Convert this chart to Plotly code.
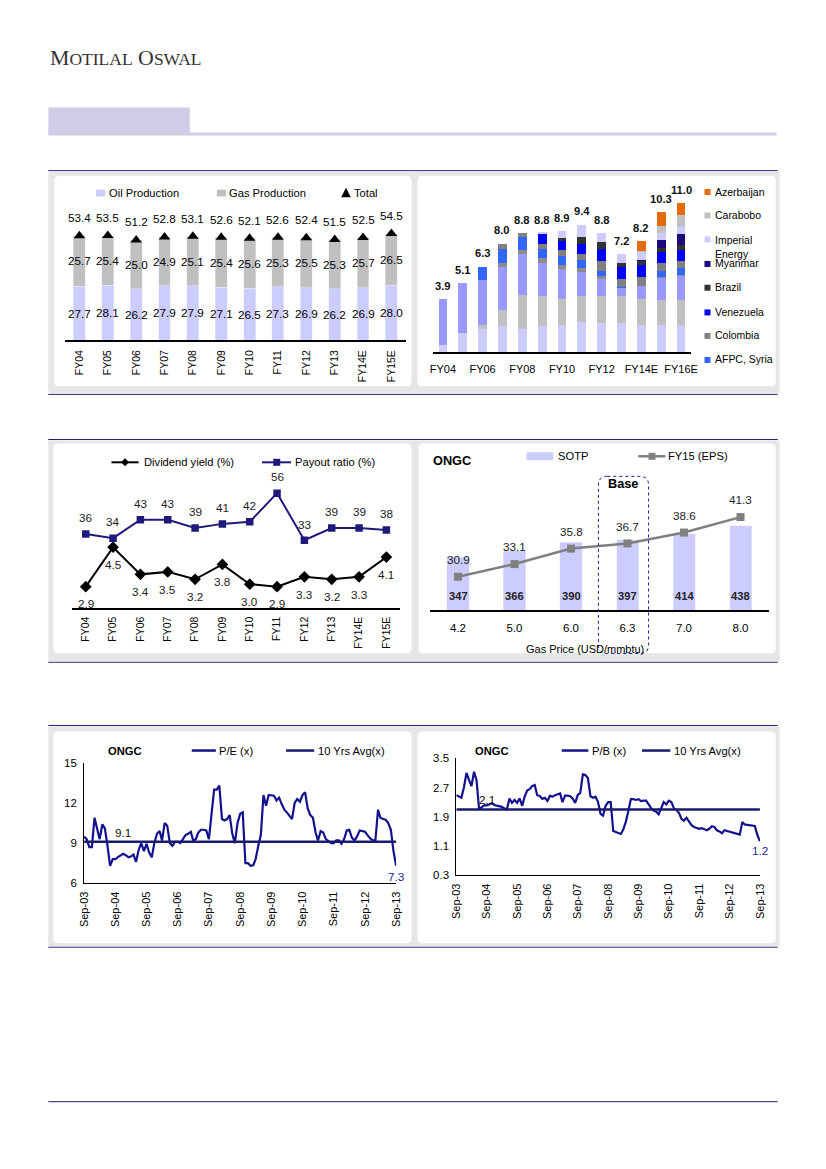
import plotly.graph_objects as go
import pandas as pd

W, H = 826, 1169
# compensation for the page capture (measured): observed = (design + 8) * s
SX, SY, OFF = 0.981, 0.9865, 8.0
def X(p): return (p / SX - OFF) / W
def Y(p): return 1 - (p / SY - OFF) / H
FS = 1.017  # font compensation

FONT = "Liberation Sans"
NAVY = "#1f1f78"

# ---------------- Chart 1 : Oil / Gas production ----------------
c1_years = ["FY04","FY05","FY06","FY07","FY08","FY09","FY10","FY11","FY12","FY13","FY14E","FY15E"]
c1_oil = [27.7,28.1,26.2,27.9,27.9,27.1,26.5,27.3,26.9,26.2,26.9,28.0]
c1_gas = [25.7,25.4,25.0,24.9,25.1,25.4,25.6,25.3,25.5,25.3,25.7,26.5]
c1_total = [53.4,53.5,51.2,52.8,53.1,52.6,52.1,52.6,52.4,51.5,52.5,54.5]

# ---------------- Chart 2 : OVL production by asset ----------------
c2_years = ["FY04","FY05","FY06","FY07","FY08","FY09","FY10","FY11","FY12","FY13","FY14E","FY15E","FY16E"]
c2_ticks = ["FY04","FY06","FY08","FY10","FY12","FY14E","FY16E"]
c2_vietnam = [0.5,1.4,1.7,1.9,1.7,1.9,2.0,2.2,2.1,2.1,2.0,2.0,2.0]
c2_sakhalin = [0,0,0.3,1.2,2.5,2.2,1.9,1.9,2.0,2.0,1.9,1.85,1.85]
c2_sudan = [3.4,3.7,3.3,3.2,3.0,2.5,2.2,1.8,1.3,0.6,1.0,1.6,1.75]
c2_others = [0,0,0,0.3,0.3,0.3,0.3,0.3,0.2,0,0,0.1,0.1]
c2_afpc = [0,0,1.0,1.0,1.0,0.7,0.7,0.6,0.4,0.1,0,0.4,0.5]
c2_colombia = [0,0,0,0.4,0.3,0.4,0.4,0.4,0.7,0.55,0.6,0.6,0.5]
c2_venezuela = [0,0,0,0,0,0.7,0.7,0.8,0.9,0.95,0.9,0.8,0.85]
c2_brazil = [0,0,0,0,0,0,0.2,0.5,0.5,0.3,0.3,0.3,0.35]
c2_myanmar = [0,0,0,0,0,0,0,0,0,0,0.1,0.65,0.8]
c2_imperial = [0,0,0,0,0,0.1,0.5,0.9,0.7,0.6,0.55,0.5,0.5]
c2_carabobo = [0,0,0,0,0,0,0,0,0,0,0.1,0.5,0.9]
c2_azerbaijan = [0,0,0,0,0,0,0,0,0,0,0.75,1.0,0.9]
c2_total = [3.9,5.1,6.3,8.0,8.8,8.8,8.9,9.4,8.8,7.2,8.2,10.3,11.0]
c2_legend = ["Azerbaijan","Carabobo","Imperial<br>Energy","Myanmar","Brazil","Venezuela","Colombia","AFPC, Syria"]

# ---------------- Chart 3 : Dividend ----------------
c3_years = ["FY04","FY05","FY06","FY07","FY08","FY09","FY10","FY11","FY12","FY13","FY14E","FY15E"]
c3_yield = [2.9,4.5,3.4,3.5,3.2,3.8,3.0,2.9,3.3,3.2,3.3,4.1]
c3_payout = [36,34,43,43,39,41,42,56,33,39,39,38]

# ---------------- Chart 4 : Gas price sensitivity ----------------
c4_price = ["4.2","5.0","6.0","6.3","7.0","8.0"]
c4_sotp = [347,366,390,397,414,438]
c4_eps = [30.9,33.1,35.8,36.7,38.6,41.3]

# ---------------- Chart 5 : P/E ----------------
c5_pe = [9.5,9.3,8.7,8.7,10.9,10.0,9.3,10.4,10.1,8.8,
         7.3,7.8,7.8,7.95,8.1,8.2,8.1,7.95,8.0,8.15,
         7.6,8.5,9.0,8.4,8.95,8.3,7.95,9.0,9.7,9.9,
         9.2,10.5,10.3,9.0,8.8,9.1,9.1,9.0,9.3,9.6,
         9.7,9.85,9.2,9.3,9.8,10.0,10.0,9.95,9.3,11.3,
         13.0,13.0,13.3,10.8,10.7,10.8,11.1,9.7,9.0,10.5,
         11.2,11.3,7.5,7.5,7.3,7.35,7.8,8.8,9.6,12.6,
         11.8,12.6,12.6,12.55,12.2,12.4,11.9,11.5,11.3,11.0,
         10.8,12.0,12.3,12.1,12.6,12.8,11.6,11.1,10.9,9.8,
         9.2,9.9,9.8,9.3,9.15,9.0,9.0,9.2,9.2,8.95,
         9.3,9.95,10.0,9.4,9.2,9.5,9.95,9.9,9.85,9.6,
         9.35,9.2,9.2,11.5,10.9,10.8,10.75,10.5,10.0,8.4,
         7.3]
c5_avg = 9.1
c5_ticks = ["Sep-03","Sep-04","Sep-05","Sep-06","Sep-07","Sep-08","Sep-09","Sep-10","Sep-11","Sep-12","Sep-13"]

# ---------------- Chart 6 : P/B ----------------
c6_pb = [2.49,2.45,2.42,2.7,3.1,2.9,2.74,3.13,2.9,2.1,
         2.15,2.22,2.21,2.24,2.27,2.22,2.21,2.19,2.17,2.13,
         2.1,2.4,2.28,2.36,2.28,2.4,2.2,2.45,2.62,2.66,
         2.74,2.77,2.49,2.47,2.39,2.42,2.33,2.47,2.45,2.49,
         2.51,2.54,2.3,2.48,2.48,2.46,2.40,2.28,2.5,2.55,
         3.06,3.04,2.96,2.46,2.42,2.45,2.31,1.98,1.93,2.2,
         2.30,2.30,1.51,1.48,1.44,1.43,1.55,1.76,2.05,2.38,
         2.38,2.36,2.38,2.33,2.34,2.34,2.24,2.13,2.07,2.04,
         1.97,2.15,2.3,2.24,2.34,2.3,2.13,2.09,2.0,1.84,
         1.79,1.87,1.77,1.67,1.62,1.59,1.57,1.59,1.56,1.53,
         1.57,1.64,1.62,1.53,1.50,1.45,1.53,1.51,1.49,1.46,
         1.43,1.41,1.41,1.76,1.69,1.68,1.67,1.68,1.65,1.40,
         1.23]
c6_avg = 2.1
c6_ticks = c5_ticks

fig = go.Figure()
annotations = []
shapes = []

def ann(text, x, y, size=10.5, bold=False, color="black", xanchor="center", yanchor="middle",
        xref="paper", yref="paper", yshift=0, family=FONT, align="center"):
    if bold:
        text = "<b>" + text + "</b>"
    if xref == "paper":
        x = X(x)
    if yref == "paper":
        y = Y(y)
    annotations.append(dict(text=text, x=x, y=y, xref=xref, yref=yref, showarrow=False,
                            xanchor=xanchor, yanchor=yanchor, yshift=yshift / SY, align=align,
                            font=dict(size=size * FS, color=color, family=family)))

def rect(x0, y0, x1, y1, fill, line=None, layer="below"):
    shapes.append(dict(type="rect", xref="paper", yref="paper", x0=X(x0), x1=X(x1), y0=Y(y1), y1=Y(y0),
                       fillcolor=fill, line=dict(width=0) if line is None else line, layer=layer))

def hline(x0, x1, y, color, width=1, dash="solid", layer="below"):
    shapes.append(dict(type="line", xref="paper", yref="paper", x0=X(x0), x1=X(x1), y0=Y(y), y1=Y(y),
                       line=dict(color=color, width=width, dash=dash), layer=layer))

def rounded(x0, y0, x1, y1, r, fill=None, line=None, layer="below"):
    rx, ry = r / W, r / H
    a0, a1, b0, b1 = X(x0), X(x1), Y(y1), Y(y0)
    p = (f"M {a0+rx},{b1} L {a1-rx},{b1} Q {a1},{b1} {a1},{b1-ry} L {a1},{b0+ry} "
         f"Q {a1},{b0} {a1-rx},{b0} L {a0+rx},{b0} Q {a0},{b0} {a0},{b0+ry} L {a0},{b1-ry} "
         f"Q {a0},{b1} {a0+rx},{b1} Z")
    d = dict(type="path", xref="paper", yref="paper", path=p, layer=layer)
    d["fillcolor"] = fill if fill else "rgba(0,0,0,0)"
    d["line"] = line if line else dict(width=0)
    shapes.append(d)

def path(pts, fill, layer="above"):
    p = "M " + " L ".join(f"{X(a)},{Y(b)}" for a, b in pts) + " Z"
    shapes.append(dict(type="path", xref="paper", yref="paper", path=p, fillcolor=fill,
                       line=dict(width=0), layer=layer))

# ---------------- page decoration ----------------
ann("M<span style='font-size:17.5px'>OTILAL</span> O<span style='font-size:17.5px'>SWAL</span>", 50, 59.5,
    size=21.5, color="#333333", xanchor="left", family="Liberation Serif")
rect(50, 109, 191, 136, "#CFCCE6")
rect(50, 134, 776, 137, "#CFCCE6")
for yy in [172, 395, 440, 662, 725, 946]:
    hline(50, 777, yy, NAVY, 1)
hline(50, 777, 1100, NAVY, 1)

GRAY = "#E6E6E6"
rect(50, 173, 779, 394, GRAY)
rect(50, 441, 779, 661, GRAY)
rect(50, 726, 779, 945, GRAY)
for (a, b, c, d) in [(56, 177, 412, 387), (418, 177, 775, 387),
                     (55, 444, 412, 653), (419, 444, 775, 653),
                     (55, 731, 412, 942), (418, 731, 775, 942)]:
    rounded(a, b, c, d, 5, fill="white")

# ---------------- Chart 1 ----------------
fig.add_trace(go.Bar(x=c1_years, y=c1_oil, marker_color="#CCCCFF", width=0.42, name="Oil Production",
                     xaxis="x", yaxis="y", showlegend=False))
fig.add_trace(go.Bar(x=c1_years, y=c1_gas, marker_color="#C0C0C0", width=0.42, name="Gas Production",
                     xaxis="x", yaxis="y", showlegend=False))
fig.add_trace(go.Scatter(x=c1_years, y=c1_total, mode="markers", name="Total",
                         marker=dict(symbol="triangle-up", size=10, color="black"),
                         xaxis="x", yaxis="y", showlegend=False))
for i, yr in enumerate(c1_years):
    ann(f"{c1_oil[i]:.1f}", i, c1_oil[i] / 2, xref="x", yref="y", size=11.5)
    ann(f"{c1_gas[i]:.1f}", i, c1_oil[i] + c1_gas[i] / 2, xref="x", yref="y", size=11.5)
    ann(f"{c1_total[i]:.1f}", i, c1_total[i], xref="x", yref="y", size=11.5, yshift=18)
rect(97.7, 191, 106.7, 197.7, "#CCCCFF", layer="above")
ann("Oil Production", 108.3, 194.3, size=11, xanchor="left")
rect(218, 191, 227, 197.7, "#C0C0C0", layer="above")
ann("Gas Production", 228.3, 194.3, size=11, xanchor="left")
path([(346.7, 189), (351.5, 198.5), (341.9, 198.5)], "black")
ann("Total", 352.5, 194.3, size=11, xanchor="left")

# ---------------- Chart 2 ----------------
c2_series = [
    ("Vietnam", c2_vietnam, "#CCCCFF"),
    ("Sakhalin", c2_sakhalin, "#C0C0C0"),
    ("Sudan", c2_sudan, "#9999FF"),
    ("Others", c2_others, "#8C8C8C"),
    ("AFPC, Syria", c2_afpc, "#3366FF"),
    ("Colombia", c2_colombia, "#808080"),
    ("Venezuela", c2_venezuela, "#0000FF"),
    ("Brazil", c2_brazil, "#333333"),
    ("Myanmar", c2_myanmar, "#1A0A7A"),
    ("Imperial Energy", c2_imperial, "#CCCCFF"),
    ("Carabobo", c2_carabobo, "#C0C0C0"),
    ("Azerbaijan", c2_azerbaijan, "#E46C0A"),
]
for name, vals, col in c2_series:
    fig.add_trace(go.Bar(x=c2_years, y=vals, marker=dict(color=col, line=dict(width=0)), width=0.44,
                         name=name, xaxis="x2", yaxis="y2", showlegend=False))
for i, yr in enumerate(c2_years):
    ann(f"{c2_total[i]:.1f}", i, c2_total[i], xref="x2", yref="y2", size=11, bold=True,
        color="#111111", yshift=13)
leg_cols = {"Azerbaijan": "#E46C0A", "Carabobo": "#C0C0C0", "Imperial<br>Energy": "#CCCCFF",
            "Myanmar": "#1A0A7A", "Brazil": "#333333", "Venezuela": "#0000FF",
            "Colombia": "#808080", "AFPC, Syria": "#3366FF"}
leg_y = [193.3, 216.7, 240.5, 265, 288.7, 313.3, 336.7, 360.7]
for lab, yy in zip(c2_legend, leg_y):
    rect(704, yy - 3, 710, yy + 3, leg_cols[lab], layer="above")
    if "<br>" in lab:
        ann(lab, 712.5, yy - 6.5, size=10.3, xanchor="left", yanchor="top", align="left")
    else:
        ann(lab, 712.5, yy, size=10.3, xanchor="left")

# ---------------- Chart 3 ----------------
fig.add_trace(go.Scatter(x=c3_years, y=c3_yield, mode="lines+markers", name="Dividend yield (%)",
                         line=dict(color="black", width=2),
                         marker=dict(symbol="diamond", size=9, color="black"),
                         xaxis="x3", yaxis="y3", showlegend=False))
fig.add_trace(go.Scatter(x=c3_years, y=c3_payout, mode="lines+markers", name="Payout ratio (%)",
                         line=dict(color="#1F1A7A", width=2),
                         marker=dict(symbol="square", size=7.5, color="#1F1A7A"),
                         xaxis="x3", yaxis="y4", showlegend=False))
for i, yr in enumerate(c3_years):
    ann(f"{c3_payout[i]:.0f}", i, c3_payout[i], xref="x3", yref="y4", size=11.5, color="#1a1a1a", yshift=16)
    ann(f"{c3_yield[i]:.1f}", i, c3_yield[i], xref="x3", yref="y3", size=11.5, color="#1a1a1a", yshift=-17)
hline(113, 140, 462.7, "black", 2, layer="above")
path([(126.5, 458.7), (130.5, 462.7), (126.5, 466.7), (122.5, 462.7)], "black")
ann("Dividend yield (%)", 143.3, 462.7, size=11, xanchor="left")
hline(263, 292, 462.7, "#1F1A7A", 2, layer="above")
rect(274.2, 459.2, 281.2, 466.2, "#1F1A7A", layer="above")
ann("Payout ratio (%)", 294, 462.7, size=11, xanchor="left")

# ---------------- Chart 4 ----------------
fig.add_trace(go.Bar(x=c4_price, y=[v - 195 for v in c4_sotp], base=195, marker_color="#CCCCFF", width=0.39,
                     name="SOTP", xaxis="x4", yaxis="y5", showlegend=False))
fig.add_trace(go.Scatter(x=c4_price, y=c4_eps, mode="lines+markers", name="FY15 (EPS)",
                         line=dict(color="#808080", width=2.5),
                         marker=dict(symbol="square", size=8, color="#808080"),
                         xaxis="x4", yaxis="y6", showlegend=False))
for i, p in enumerate(c4_price):
    ann(f"{c4_sotp[i]:.0f}", i, 195, xref="x4", yref="y5", size=11, bold=True, color="#222222", yshift=14)
    ann(f"{c4_eps[i]:.1f}", i, c4_eps[i], xref="x4", yref="y6", size=11.5, color="#222222", yshift=17)
ann("ONGC", 431.7, 460.7, size=12.5, bold=True, xanchor="left")
rect(526.7, 452.7, 553.3, 460.7, "#CCCCFF", layer="above")
ann("SOTP", 555.7, 456.7, size=11, xanchor="left")
hline(638, 665, 456.7, "#808080", 2.5, layer="above")
rect(648.2, 453.2, 655.2, 460.2, "#808080", layer="above")
ann("FY15 (EPS)", 666, 456.7, size=11, xanchor="left")
ann("Gas Price (USD/mmbtu)", 585, 648.3, size=10.8)
rounded(598.3, 476.7, 648.3, 653.3, 9, fill=None, line=dict(color="#1A1A9A", width=1, dash="dot"), layer="above")
ann("Base", 623.3, 484.3, size=12.5, bold=True)

# ---------------- Chart 5 ----------------
c5_dates = pd.date_range("2003-09-01", periods=len(c5_pe), freq="MS")
fig.add_trace(go.Scatter(x=c5_dates, y=c5_pe, mode="lines", name="P/E (x)",
                         line=dict(color="#12128C", width=2.2), xaxis="x5", yaxis="y7", showlegend=False))
fig.add_trace(go.Scatter(x=[c5_dates[0], c5_dates[-1]], y=[c5_avg, c5_avg], mode="lines", name="10 Yrs Avg(x)",
                         line=dict(color="#1A1A6E", width=2.5), xaxis="x5", yaxis="y7", showlegend=False))
ann(f"{c5_avg:.1f}", c5_dates[15], c5_avg, xref="x5", yref="y7", size=11.5, color="#111111", yshift=9)
ann(f"{c5_pe[-1]:.1f}", c5_dates[-1], c5_pe[-1], xref="x5", yref="y7", size=11.5, color="#2424A0", yshift=-10)
ann("ONGC", 108, 750.7, size=11, bold=True, xanchor="left")
hline(193, 217, 750, "#12128C", 2.5, layer="above")
ann("P/E (x)", 218, 750, size=11, xanchor="left")
hline(287, 315, 750, "#1A1A6E", 2.5, layer="above")
ann("10 Yrs Avg(x)", 317, 750, size=11, xanchor="left")

# ---------------- Chart 6 ----------------
c6_dates = pd.date_range("2003-09-01", periods=len(c6_pb), freq="MS")
fig.add_trace(go.Scatter(x=c6_dates, y=c6_pb, mode="lines", name="P/B (x)",
                         line=dict(color="#12128C", width=2.2), xaxis="x6", yaxis="y8", showlegend=False))
fig.add_trace(go.Scatter(x=[c6_dates[0], c6_dates[-1]], y=[c6_avg, c6_avg], mode="lines", name="10 Yrs Avg(x)",
                         line=dict(color="#1A1A6E", width=2.5), xaxis="x6", yaxis="y8", showlegend=False))
ann(f"{c6_avg:.1f}", c6_dates[12], c6_avg, xref="x6", yref="y8", size=11.5, color="#111111", yshift=10)
ann(f"{c6_pb[-1]:.1f}", c6_dates[-1], c6_pb[-1], xref="x6", yref="y8", size=11.5, color="#2424A0", yshift=-9)
ann("ONGC", 473, 750, size=11, bold=True, xanchor="left")
hline(561.7, 588.3, 750, "#12128C", 2.5, layer="above")
ann("P/B (x)", 590, 750, size=11, xanchor="left")
hline(641.7, 670, 750, "#1A1A6E", 2.5, layer="above")
ann("10 Yrs Avg(x)", 671.7, 750, size=11, xanchor="left")

# ---------------- axes ----------------
def tf(s):
    return dict(size=s * FS, color="black", family=FONT)

hidden_y = dict(visible=False, showgrid=False, zeroline=False, fixedrange=True)
cat_x = dict(type="category", showline=True, linecolor="black", linewidth=1.5, showgrid=False,
             zeroline=False, ticks="", tickfont=tf(10.8))
date_ticks = [f"{2003 + k}-09-01" for k in range(len(c5_ticks))]

fig.update_layout(
    width=W, height=H, autosize=False,
    margin=dict(l=0, r=0, t=0, b=0),
    paper_bgcolor="white", plot_bgcolor="rgba(0,0,0,0)",
    barmode="stack", showlegend=False,
    font=dict(family=FONT, color="black"),
    xaxis=dict(cat_x, domain=[X(66.9), X(406.1)], anchor="y", tickangle=-90, range=[-0.5, 11.5],
               ticklabelstandoff=4, tickfont=tf(10.3)),
    yaxis=dict(hidden_y, domain=[Y(341), Y(204.5)], range=[0, 70]),
    xaxis2=dict(cat_x, domain=[X(433.4), X(690.6)], anchor="y2", range=[-0.5, 12.5],
                tickmode="array", tickvals=c2_ticks, ticktext=c2_ticks, tickangle=0, ticklabelstandoff=6),
    yaxis2=dict(hidden_y, domain=[Y(352.7), Y(190.7)], range=[0, 12]),
    xaxis3=dict(cat_x, domain=[X(73.7), X(400.6)], anchor="y3", tickangle=-90, range=[-0.5, 11.5],
                ticklabelstandoff=3, tickfont=tf(10.3)),
    yaxis3=dict(hidden_y, domain=[Y(607.7), Y(458)], range=[2.046, 8.13]),
    yaxis4=dict(hidden_y, overlaying="y3", range=[0, 73.4]),
    xaxis4=dict(cat_x, domain=[X(430.2), X(768.1)], anchor="y5", range=[-0.5, 5.5], tickangle=0,
                ticklabelstandoff=6, tickfont=tf(11.3)),
    yaxis5=dict(hidden_y, domain=[Y(610), Y(465)], range=[195, 613]),
    yaxis6=dict(hidden_y, overlaying="y5", range=[25.07, 50.46]),
    xaxis5=dict(type="date", domain=[X(85.7), X(396.7)], anchor="y7",
                range=[date_ticks[0], date_ticks[-1]], showline=True, linecolor="black", linewidth=1,
                showgrid=False, zeroline=False, ticks="", tickmode="array", tickvals=date_ticks,
                ticktext=c5_ticks, tickangle=-90, ticklabelstandoff=3, tickfont=tf(10.8)),
    yaxis7=dict(domain=[Y(882.3), Y(762.3)], anchor="x5", range=[6, 15], showline=True, linecolor="black",
                linewidth=1, showgrid=False, zeroline=False, ticks="", tickmode="array",
                tickvals=[6, 9, 12, 15], tickfont=tf(11.3), ticklabelstandoff=4),
    xaxis6=dict(type="date", domain=[X(456.7), X(759.3)], anchor="y8",
                range=[date_ticks[0], date_ticks[-1]], showline=True, linecolor="black", linewidth=1,
                showgrid=False, zeroline=False, ticks="", tickmode="array", tickvals=date_ticks,
                ticktext=c6_ticks, tickangle=-90, ticklabelstandoff=3, tickfont=tf(10.8)),
    yaxis8=dict(domain=[Y(874.3), Y(757.7)], anchor="x6", range=[0.3, 3.5], showline=True, linecolor="black",
                linewidth=1, showgrid=False, zeroline=False, ticks="", tickmode="array",
                tickvals=[0.3, 1.1, 1.9, 2.7, 3.5], tickformat=".1f", tickfont=tf(11.3), ticklabelstandoff=4),
    annotations=annotations,
    shapes=shapes,
)

fig.write_html("out.html", config={"displayModeBar": False},
               post_script="document.body.style.margin='0px';document.body.style.padding='0px';"
                           "document.documentElement.style.overflow='hidden';")
